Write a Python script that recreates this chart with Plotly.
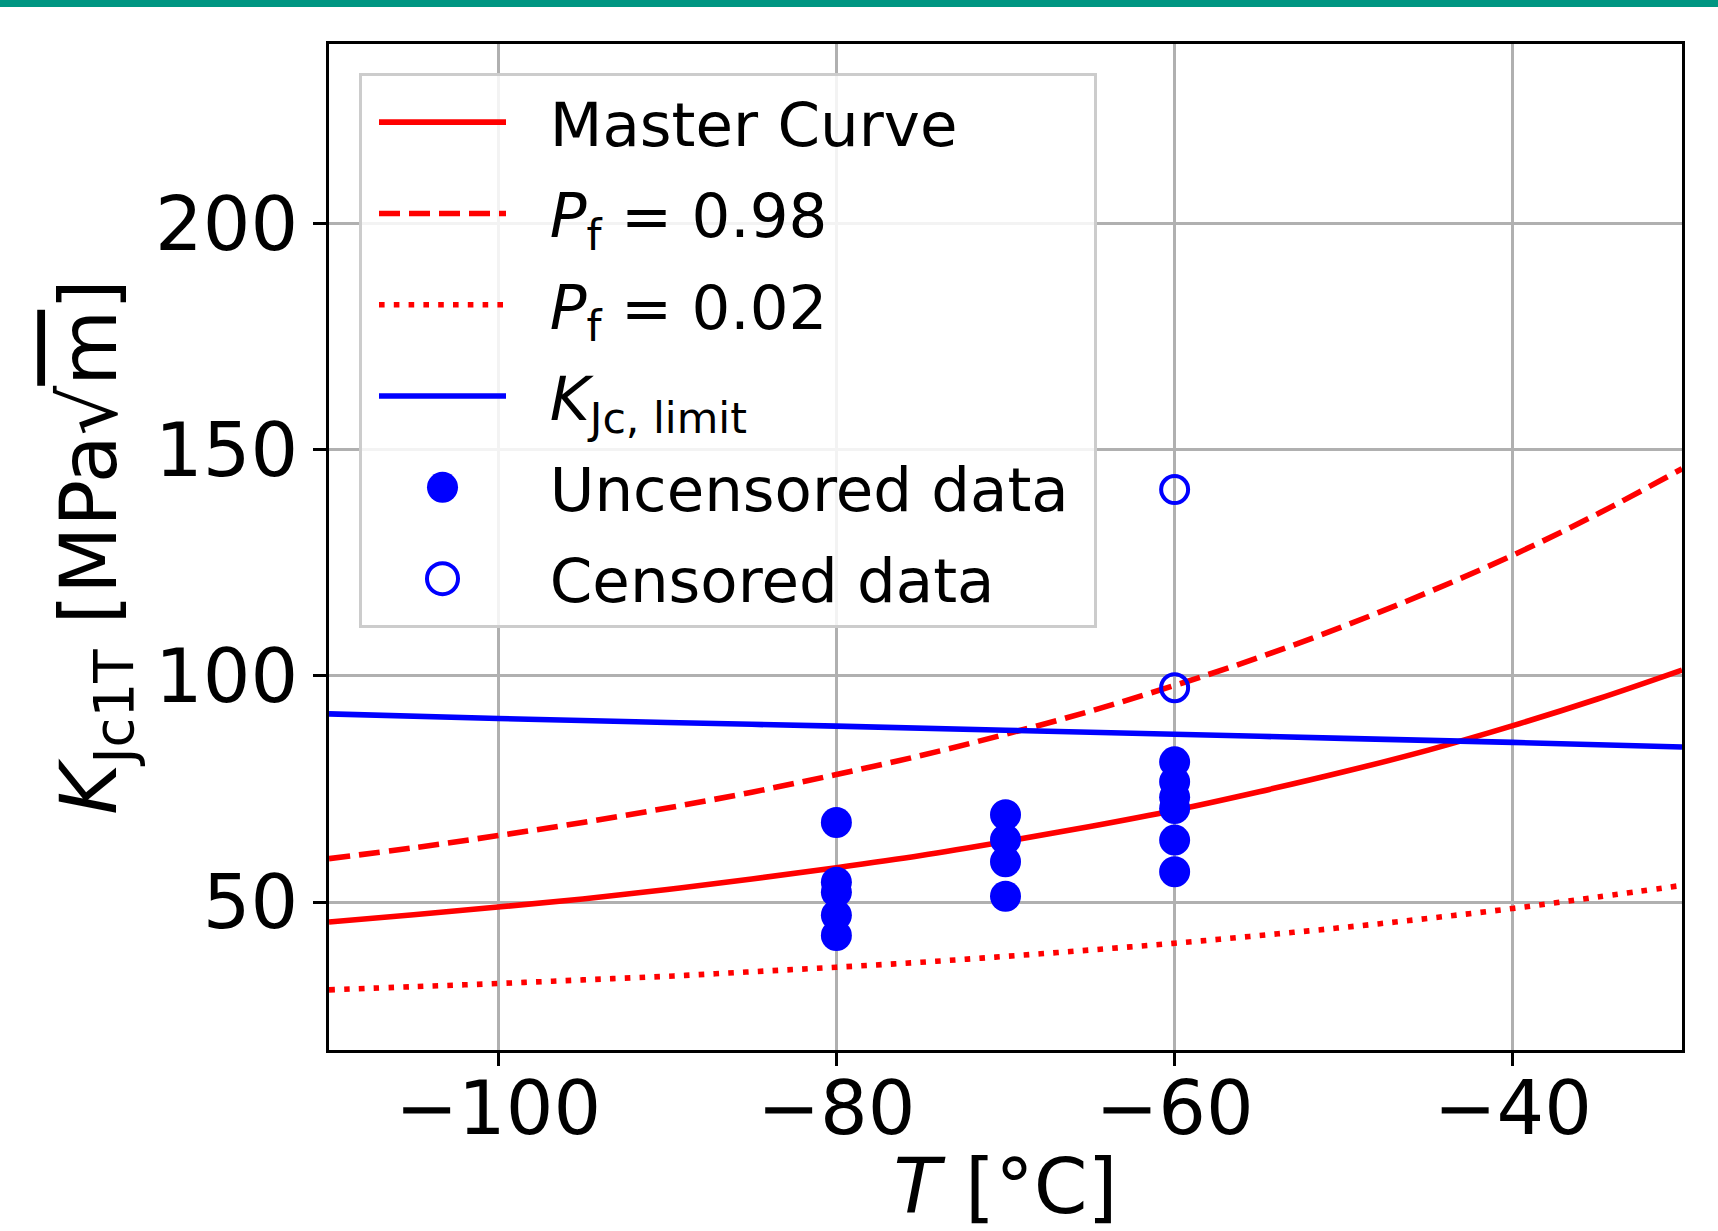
import plotly.graph_objects as go

# ---------------- data ----------------
T_curve = [-110, -105, -100, -95, -90, -85, -80, -75, -70, -65, -60, -55, -50, -45, -40, -35, -30]
K_master = [45.6, 47.2, 48.9, 50.7, 52.8, 55.1, 57.6, 60.3, 63.4, 66.7, 70.3, 74.4, 78.8, 83.6, 89.0, 94.9, 101.3]
K_p98 = [59.6, 62.0, 64.7, 67.6, 70.8, 74.3, 78.2, 82.4, 87.1, 92.2, 97.9, 104.1, 111.0, 118.5, 126.7, 135.8, 145.8]
K_p02 = [30.6, 31.3, 32.0, 32.8, 33.6, 34.6, 35.6, 36.7, 38.0, 39.4, 40.9, 42.6, 44.4, 46.4, 48.6, 51.1, 53.7]

T_limit = [-110, -100, -90, -80, -70, -60, -50, -40, -30]
K_limit = [91.6, 90.6, 89.7, 88.9, 88.0, 87.1, 86.2, 85.3, 84.3]

T_uncensored = [-80, -80, -80, -80, -80, -70, -70, -70, -70, -60, -60, -60, -60, -60, -60]
K_uncensored = [67.6, 54.4, 52.2, 47.1, 42.6, 69.3, 63.8, 58.9, 51.3, 81.0, 76.6, 73.2, 70.7, 63.7, 56.7]

T_censored = [-60, -60]
K_censored = [141.2, 97.4]

x_ticks = [-100, -80, -60, -40]
y_ticks = [50, 100, 150, 200]

# ---------------- figure ----------------
W, H = 1718, 1231
ML, MR, MT, MB = 329, 36, 44, 181
FONT = "DejaVu Sans"
LW = 5.6
GAP = "\u00a0\u00a0"  # space between legend symbol and legend text

fig = go.Figure()

fig.add_trace(go.Scatter(x=T_curve, y=K_master, mode="lines", name=GAP + "Master Curve",
                         line=dict(color="#ff0000", width=LW, shape="spline"),
                         legendgroup="a"))
fig.add_trace(go.Scatter(x=T_curve, y=K_p98, mode="lines",
                         name=GAP + "<i>P</i><sub>f</sub> = 0.98",
                         line=dict(color="#ff0000", width=LW, dash="21px,9px", shape="spline"),
                         legendgroup="b"))
fig.add_trace(go.Scatter(x=T_curve, y=K_p02, mode="lines",
                         name=GAP + "<i>P</i><sub>f</sub> = 0.02",
                         line=dict(color="#ff0000", width=LW, dash="5.6px,9.2px", shape="spline"),
                         legendgroup="c"))
fig.add_trace(go.Scatter(x=T_limit, y=K_limit, mode="lines",
                         name=GAP + "<i>K</i><sub>Jc, limit</sub>",
                         line=dict(color="#0000ff", width=LW, shape="spline"),
                         legendgroup="d"))
fig.add_trace(go.Scatter(x=T_uncensored, y=K_uncensored, mode="markers",
                         name=GAP + "Uncensored data\u00a0",
                         marker=dict(color="#0000ff", size=31, line=dict(width=0)),
                         legendgroup="e"))
fig.add_trace(go.Scatter(x=T_censored, y=K_censored, mode="markers",
                         name=GAP + "Censored data",
                         marker=dict(symbol="circle-open", color="#0000ff", size=27,
                                     line=dict(width=4, color="#0000ff")),
                         legendgroup="f"))

pw = W - ML - MR
ph = H - MT - MB

# teal band at the very top of the picture
fig.add_shape(type="rect", xref="paper", yref="paper",
              x0=-ML / pw, x1=(W - ML) / pw,
              y0=1 + (MT - 7) / ph, y1=1 + MT / ph,
              fillcolor="#009682", line=dict(width=0), layer="above")

axis_common = dict(
    showgrid=True, gridcolor="#b0b0b0", gridwidth=2.8,
    showline=True, linecolor="black", linewidth=2.6, mirror=True,
    ticks="outside", ticklen=13, tickwidth=2.6, tickcolor="black",
    zeroline=False,
    tickfont=dict(family=FONT, size=75, color="black"),
)

fig.update_xaxes(range=[-110, -30], tickvals=x_ticks, ticklabelstandoff=-22,
                 title=dict(text="<i>T</i> [°C]", font=dict(family=FONT, size=77, color="black"),
                            standoff=60),
                 **axis_common)
fig.update_yaxes(range=[17.3, 239.7], tickvals=y_ticks,
                 title=dict(text="<i>K</i><sub>Jc1T</sub> [MPa√<span style=\"text-decoration:overline\">m</span>]",
                            font=dict(family=FONT, size=78, color="black"),
                            standoff=13),
                 **axis_common)

fig.update_layout(
    width=W, height=H,
    margin=dict(l=ML, r=MR, t=MT, b=MB, autoexpand=False),
    paper_bgcolor="white", plot_bgcolor="white",
    font=dict(family=FONT, color="black"),
    showlegend=True,
    legend=dict(
        x=(359 - ML) / pw, y=1 - (73 - MT) / ph, xanchor="left", yanchor="top",
        bgcolor="rgba(255,255,255,0.85)", bordercolor="#cccccc", borderwidth=3,
        font=dict(family=FONT, size=61, color="black"),
        itemwidth=127, indentation=12, traceorder="grouped", tracegroupgap=9,
    ),
)

# enlarge the legend marker glyphs (plotly caps them at 16 px) to match the plot markers
post = """
var gd = document.getElementById('{plot_id}');
function fixLegend(){
  gd.querySelectorAll('.legend .legendpoints path.scatterpts').forEach(function(p){
    var t = p.getAttribute('transform') || '';
    if (t.indexOf('scale') < 0) {
      p.setAttribute('transform', t + ' scale(1.94)');
      var sw = parseFloat(p.style.strokeWidth || '0');
      if (sw > 0) { p.style.strokeWidth = (sw / 1.94) + 'px'; }
    }
  });
}
fixLegend();
gd.on('plotly_afterplot', fixLegend);
"""

fig.write_html("out.html", post_script=post)
